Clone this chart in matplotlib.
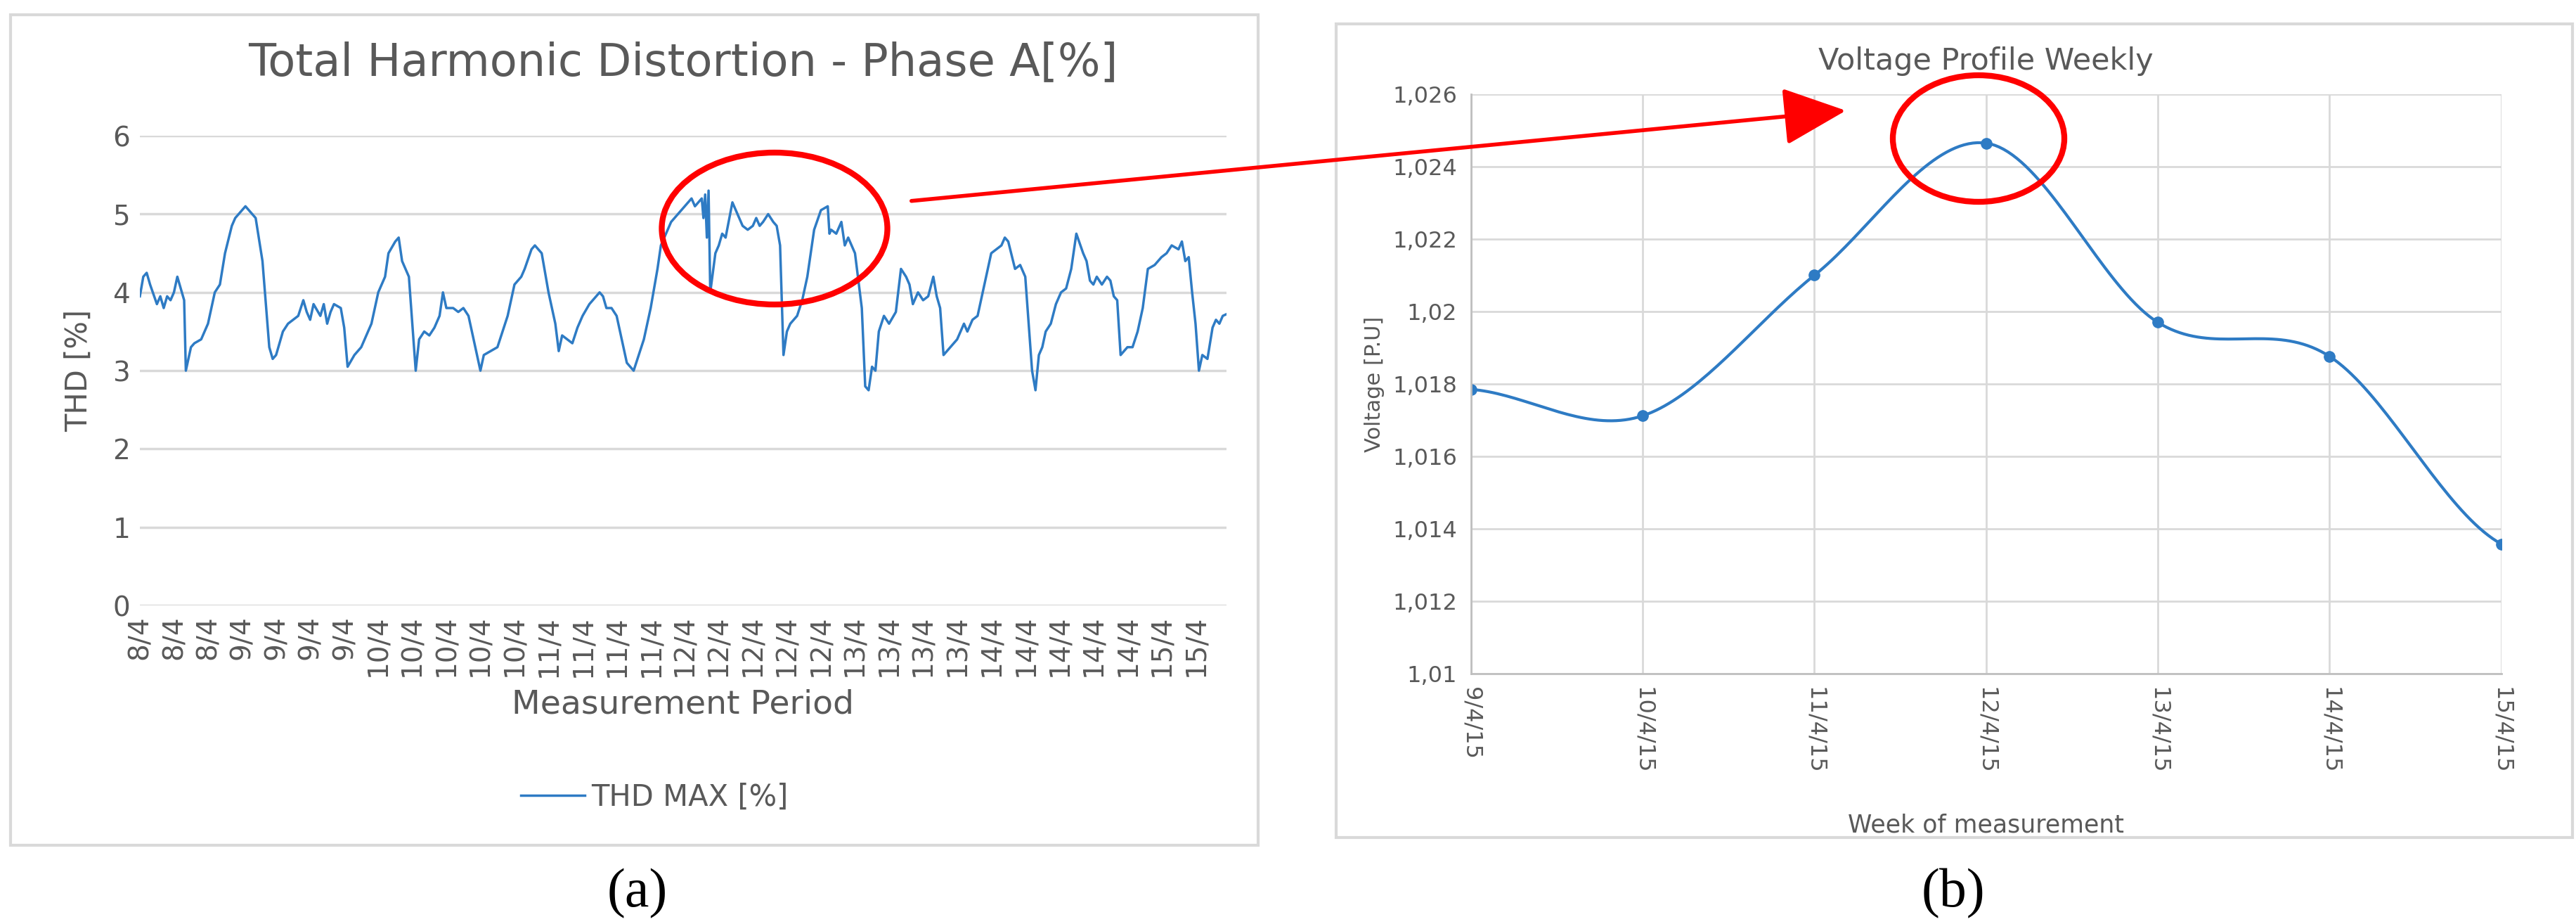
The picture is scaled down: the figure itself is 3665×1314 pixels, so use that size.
import matplotlib
matplotlib.use("Agg")
import matplotlib.pyplot as plt
from matplotlib.patches import Ellipse, Rectangle, FancyArrowPatch
import numpy as np

plt.rcParams['font.family'] = ['Liberation Sans Narrow', 'DejaVu Sans']

# ---- Panel (a) data ----
thd_labels = ["8/4"]*3 + ["9/4"]*4 + ["10/4"]*5 + ["11/4"]*4 + ["12/4"]*5 + ["13/4"]*4 + ["14/4"]*5 + ["15/4"]*2
thd_t = [0, 0.1, 0.2, 0.3, 0.5, 0.6, 0.7, 0.8, 0.9, 1.0, 1.1, 1.2, 1.3, 1.35, 1.5, 1.6, 1.8, 2.0, 2.2, 2.35, 2.5, 2.7,
         2.8, 2.9, 3.0, 3.1, 3.2, 3.4, 3.6, 3.8, 3.9, 4.0, 4.2, 4.35, 4.5, 4.65, 4.8, 4.9, 5.0, 5.1, 5.3, 5.4, 5.5, 5.6,
         5.7, 5.9, 6.0, 6.1, 6.3, 6.5, 6.8, 7.0, 7.2, 7.3, 7.5, 7.6, 7.7, 7.9, 8.0, 8.1, 8.2, 8.35, 8.5, 8.65, 8.8, 8.9,
         9.0, 9.2, 9.35, 9.5, 9.65, 9.8, 10.0, 10.1, 10.3, 10.5, 10.8, 11.0, 11.2, 11.3, 11.5, 11.6, 11.8, 12.0, 12.2,
         12.3, 12.4, 12.55, 12.7, 12.85, 13.0, 13.2, 13.3, 13.5, 13.6, 13.7, 13.85, 14.0, 14.2, 14.3, 14.5, 14.65, 14.8,
         15.0, 15.2, 15.3, 15.6, 15.8, 16.0, 16.2, 16.3, 16.4, 16.5, 16.55, 16.6, 16.65, 16.7, 16.75, 16.9, 17.0, 17.1,
         17.2, 17.4, 17.6, 17.7, 17.85, 18.0, 18.1, 18.2, 18.3, 18.45, 18.6, 18.7, 18.8, 18.9, 19.0, 19.1, 19.3, 19.45,
         19.6, 19.8, 20.0, 20.2, 20.25, 20.3, 20.45, 20.6, 20.7, 20.8, 21.0, 21.2, 21.3, 21.4, 21.5, 21.6, 21.7, 21.85,
         22.0, 22.2, 22.35, 22.5, 22.6, 22.7, 22.85, 23.0, 23.15, 23.3, 23.4, 23.5, 23.6, 23.8, 24.0, 24.2, 24.3, 24.45,
         24.6, 24.8, 25.0, 25.15, 25.3, 25.4, 25.5, 25.7, 25.85, 26.0, 26.1, 26.2, 26.3, 26.4, 26.5, 26.6, 26.75, 26.9,
         27.05, 27.2, 27.35, 27.5, 27.7, 27.8, 27.9, 28.0, 28.1, 28.25, 28.4, 28.5, 28.6, 28.7, 28.8, 29.0, 29.15, 29.3,
         29.45, 29.6, 29.8, 29.9, 30.0, 30.15, 30.3, 30.5, 30.6, 30.7, 30.8, 30.9, 31.0, 31.1, 31.2, 31.35, 31.5, 31.6,
         31.7, 31.8, 31.9]
thd_val = [3.95, 4.2, 4.25, 4.1, 3.85, 3.95, 3.8, 3.95, 3.9, 4.0, 4.2, 4.05, 3.9, 3.0, 3.3, 3.35, 3.4, 3.6, 4.0, 4.1, 4.5, 4.85,
           4.95, 5.0, 5.05, 5.1, 5.05, 4.95, 4.4, 3.3, 3.15, 3.2, 3.5, 3.6, 3.65, 3.7, 3.9, 3.75, 3.65, 3.85, 3.7, 3.85, 3.6, 3.75,
           3.85, 3.8, 3.55, 3.05, 3.2, 3.3, 3.6, 4.0, 4.2, 4.5, 4.65, 4.7, 4.4, 4.2, 3.6, 3.0, 3.4, 3.5, 3.45, 3.55, 3.7, 4.0,
           3.8, 3.8, 3.75, 3.8, 3.7, 3.4, 3.0, 3.2, 3.25, 3.3, 3.7, 4.1, 4.2, 4.3, 4.55, 4.6, 4.5, 4.0, 3.6,
           3.25, 3.45, 3.4, 3.35, 3.55, 3.7, 3.85, 3.9, 4.0, 3.95, 3.8, 3.8, 3.7, 3.3, 3.1, 3.0, 3.2, 3.4,
           3.8, 4.3, 4.6, 4.9, 5.0, 5.1, 5.2, 5.1, 5.15, 5.2, 4.95, 5.25, 4.7, 5.3, 4.0, 4.5, 4.6, 4.75,
           4.7, 5.15, 4.95, 4.85, 4.8, 4.85, 4.95, 4.85, 4.9, 5.0, 4.9, 4.85, 4.6, 3.2, 3.5, 3.6, 3.7, 3.9,
           4.2, 4.8, 5.05, 5.1, 4.75, 4.8, 4.75, 4.9, 4.6, 4.7, 4.5, 3.8, 2.8, 2.75, 3.05, 3.0, 3.5, 3.7,
           3.6, 3.75, 4.3, 4.2, 4.1, 3.85, 4.0, 3.9, 3.95, 4.2, 3.95, 3.8, 3.2, 3.3, 3.4, 3.6, 3.5, 3.65,
           3.7, 4.1, 4.5, 4.55, 4.6, 4.7, 4.65, 4.3, 4.35, 4.2, 3.6, 3.0, 2.75, 3.2, 3.3, 3.5, 3.6,
           3.85, 4.0, 4.05, 4.3, 4.75, 4.5, 4.4, 4.15, 4.1, 4.2, 4.1, 4.2, 4.15, 3.95, 3.9, 3.2, 3.3, 3.3,
           3.5, 3.8, 4.3, 4.35, 4.4, 4.45, 4.5, 4.6, 4.55, 4.65, 4.4, 4.45, 4.0, 3.6, 3.0, 3.2, 3.15,
           3.55, 3.65, 3.6, 3.7, 3.72]

# ---- Panel (b) data ----
volt_labels = ["9/4/15", "10/4/15", "11/4/15", "12/4/15", "13/4/15", "14/4/15", "15/4/15"]
volt_val = [1.01785, 1.01712, 1.0210, 1.02465, 1.01970, 1.01876, 1.01358]
volt_ticks = [1.010, 1.012, 1.014, 1.016, 1.018, 1.020, 1.022, 1.024, 1.026]
volt_tick_labels = ["1,01", "1,012", "1,014", "1,016", "1,018", "1,02", "1,022", "1,024", "1,026"]

BLUE = "#2E7BC4"
GRID = "#d9d9d9"
TXT = "#595959"

n = min(len(thd_t), len(thd_val))
thd_t = thd_t[:n]
thd_val = thd_val[:n]

fig = plt.figure(figsize=(36.65, 13.14), dpi=100)
fig.patch.set_facecolor("white")

# frames
fig.add_artist(Rectangle((15/3665, 1-1202/1314), (1790-15)/3665, (1202-21)/1314, transform=fig.transFigure,
                         fill=False, edgecolor=GRID, lw=3))
fig.add_artist(Rectangle((1901/3665, 1-1191/1314), (3660-1901)/3665, (1191-34)/1314, transform=fig.transFigure,
                         fill=False, edgecolor=GRID, lw=3))

# ---- Panel (a) ----
ax1 = fig.add_axes([0.0543, 0.3447, 0.4217, 0.5083])
ax1.plot(thd_t, thd_val, color=BLUE, lw=2.5, label="THD MAX [%]")
ax1.set_ylim(0, 6)
ax1.set_yticks(range(7))
ax1.set_xlim(0, 31.9)
ax1.set_xticks(range(len(thd_labels)))
ax1.set_xticklabels(thd_labels, rotation=90)
ax1.grid(axis="y", color=GRID, lw=2.5)
ax1.set_axisbelow(True)
for s in ax1.spines.values():
    s.set_visible(False)
ax1.tick_params(length=0, labelsize=28, labelcolor=TXT, pad=10)
ax1.set_ylabel("THD [%]", fontsize=30, color=TXT, family=['DejaVu Sans'], labelpad=20)
ax1.set_xlabel("Measurement Period", fontsize=34, color=TXT, labelpad=12)
ax1.set_title("Total Harmonic Distortion - Phase A[%]", fontsize=46, color=TXT, pad=62)
ax1.legend(loc="center", bbox_to_anchor=(0.254, 0.137), bbox_transform=fig.transFigure, frameon=False,
           fontsize=30, labelcolor=TXT, handlelength=2.2, handletextpad=0.2)
fig.text(907/3665, 1-1271/1314, "(a)", ha="center", va="center", fontsize=56, family="Liberation Serif")

# ---- Panel (b) ----
ax2 = fig.add_axes([0.571, 0.271, 0.400, 0.627])
xi = np.arange(len(volt_val))
P = np.array(volt_val)
ext = np.concatenate([[P[0]], P, [P[-1]]])
xs, ys = [], []
for i in range(len(P) - 1):
    p0, p1, p2, p3 = ext[i], ext[i+1], ext[i+2], ext[i+3]
    c1 = p1 + (p2 - p0) / 6
    c2 = p2 - (p3 - p1) / 6
    t = np.linspace(0, 1, 40)
    ys.append((1-t)**3*p1 + 3*(1-t)**2*t*c1 + 3*(1-t)*t**2*c2 + t**3*p2)
    xs.append(i + t)
ax2.plot(np.concatenate(xs), np.concatenate(ys), color=BLUE, lw=3)
ax2.plot(xi, volt_val, "o", color=BLUE, ms=11)
ax2.set_xlim(0, 6)
ax2.set_ylim(1.010, 1.026)
ax2.set_yticks(volt_ticks)
ax2.set_yticklabels(volt_tick_labels)
ax2.set_xticks(xi)
ax2.set_xticklabels(volt_labels, rotation=-90)
ax2.grid(color=GRID, lw=2)
ax2.set_axisbelow(True)
for k in ["top", "right"]:
    ax2.spines[k].set_visible(False)
for k in ["left", "bottom"]:
    ax2.spines[k].set_color("#bfbfbf")
    ax2.spines[k].set_linewidth(2)
ax2.tick_params(length=0, labelsize=23, labelcolor=TXT, pad=14)
ax2.set_ylabel("Voltage [P.U]", fontsize=22, color=TXT, family=['DejaVu Sans'], labelpad=8)
ax2.set_xlabel("Week of measurement", fontsize=25, color=TXT, labelpad=40)
ax2.set_title("Voltage Profile Weekly", fontsize=31, color=TXT, pad=25)
fig.text(2779/3665, 1-1271/1314, "(b)", ha="center", va="center", fontsize=56, family="Liberation Serif")

# ---- Annotations ----
fig.add_artist(Ellipse((1102/3665, 1-325/1314), 321/3665, 216/1314, transform=fig.transFigure,
                       fill=False, edgecolor="#ff0000", lw=6, zorder=10))
fig.add_artist(Ellipse((2815/3665, 1-197/1314), 244/3665, 180/1314, transform=fig.transFigure,
                       fill=False, edgecolor="#ff0000", lw=6, zorder=10))
fig.add_artist(FancyArrowPatch((1294/3665, 1-286/1314), (2629/3665, 1-157/1314), transform=fig.transFigure,
                               arrowstyle="-|>,head_length=3.5,head_width=1.6", mutation_scale=16,
                               color="#ff0000", lw=4, zorder=10))

fig.savefig("out.png", dpi=100, facecolor="white")
